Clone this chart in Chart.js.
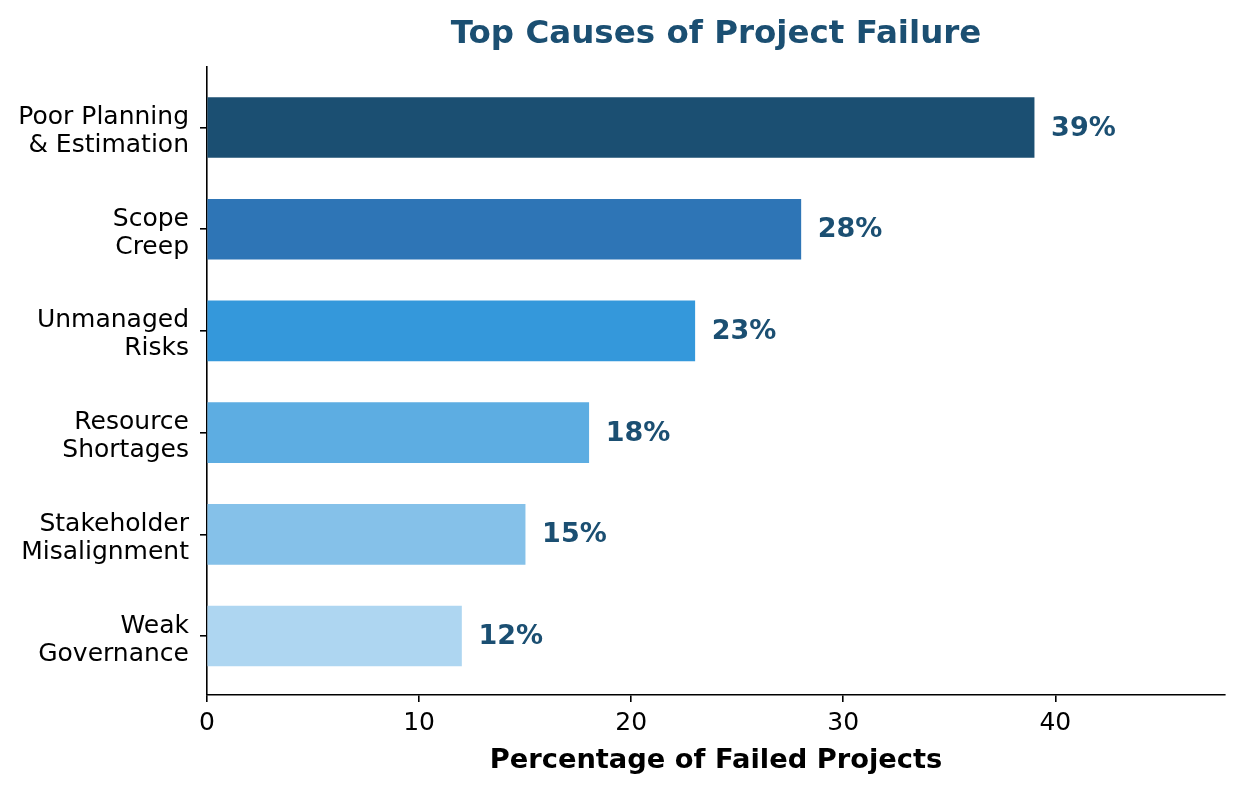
<!DOCTYPE html>
<html>
<head>
<meta charset="utf-8">
<script src="https://cdn.jsdelivr.net/npm/chart.js@4.4.0/dist/chart.umd.min.js"></script>
<style>
  html, body { margin: 0; padding: 0; background: #fff; }
</style>
</head>
<body>
<canvas id="failureChart" width="1242" height="792"></canvas>
<script>
const causes = [
    'Poor Planning\n& Estimation',
    'Scope\nCreep',
    'Unmanaged\nRisks',
    'Resource\nShortages',
    'Stakeholder\nMisalignment',
    'Weak\nGovernance'
];
const percentages = [39, 28, 23, 18, 15, 12];
const barColors = ['#1b4f72', '#2e75b6', '#3498db', '#5dade2', '#85c1e9', '#aed6f1'];
const xTicks = [0, 10, 20, 30, 40];

const fontFamily = '"DejaVu Sans", sans-serif';
const titleColor = '#1b4f72';

// titles and the value labels next to each bar
const annotations = {
    id: 'annotations',
    afterDraw(chart) {
        const { ctx, chartArea, scales } = chart;
        const cx = (chartArea.left + chartArea.right) / 2;
        ctx.save();
        ctx.textAlign = 'center';
        ctx.textBaseline = 'alphabetic';
        ctx.fillStyle = titleColor;
        ctx.font = `bold 32.5px ${fontFamily}`;
        ctx.fillText('Top Causes of Project Failure', cx, 43);

        ctx.fillStyle = '#000';
        ctx.font = `bold 27.3px ${fontFamily}`;
        ctx.fillText('Percentage of Failed Projects', cx, 768);

        ctx.textAlign = 'left';
        ctx.textBaseline = 'middle';
        ctx.fillStyle = titleColor;
        ctx.font = `bold 27px ${fontFamily}`;
        percentages.forEach((v, i) => {
            const x = scales.x.getPixelForValue(v + 0.8);
            const y = scales.y.getPixelForValue(i);
            ctx.fillText(`${v}%`, x, y + 1);
        });
        ctx.restore();
    }
};

const ctx = document.getElementById('failureChart').getContext('2d');
new Chart(ctx, {
    type: 'bar',
    data: {
        datasets: [{
            label: 'Percentage of Failed Projects',
            data: percentages.map((v, i) => ({ x: v, y: i })),
            backgroundColor: barColors,
            borderWidth: 0,
            barThickness: 60
        }]
    },
    options: {
        indexAxis: 'y',
        responsive: false,
        animation: false,
        layout: {
            padding: { left: 0, top: 67, right: 17, bottom: 0 }
        },
        plugins: {
            legend: { display: false },
            tooltip: { enabled: false },
            title: { display: false }
        },
        scales: {
            x: {
                type: 'linear',
                min: 0,
                max: 48,
                afterBuildTicks: (scale) => {
                    scale.ticks = xTicks.map(v => ({ value: v }));
                },
                afterFit: (scale) => { scale.height = 97; },
                grid: {
                    drawOnChartArea: false,
                    tickLength: 7,
                    color: '#000',
                    lineWidth: 1.6
                },
                border: { display: true, color: '#000', width: 1.6 },
                ticks: {
                    color: '#000',
                    padding: 6,
                    maxRotation: 0,
                    font: { family: fontFamily, size: 25 }
                }
            },
            y: {
                type: 'linear',
                reverse: true,
                offset: false,
                min: -0.595,
                max: 5.58,
                afterBuildTicks: (scale) => {
                    scale.ticks = causes.map((c, i) => ({ value: i }));
                },
                afterFit: (scale) => { scale.width = 207; },
                grid: {
                    offset: false,
                    drawOnChartArea: false,
                    tickLength: 7,
                    color: '#000',
                    lineWidth: 1.6
                },
                border: { display: true, color: '#000', width: 1.6 },
                ticks: {
                    color: '#000',
                    padding: 11,
                    labelOffset: 4,
                    autoSkip: false,
                    callback: (v) => causes[v] ? causes[v].split('\n') : '',
                    font: { family: fontFamily, size: 25, lineHeight: 1.12 }
                }
            }
        }
    },
    plugins: [annotations]
});
</script>
</body>
</html>
